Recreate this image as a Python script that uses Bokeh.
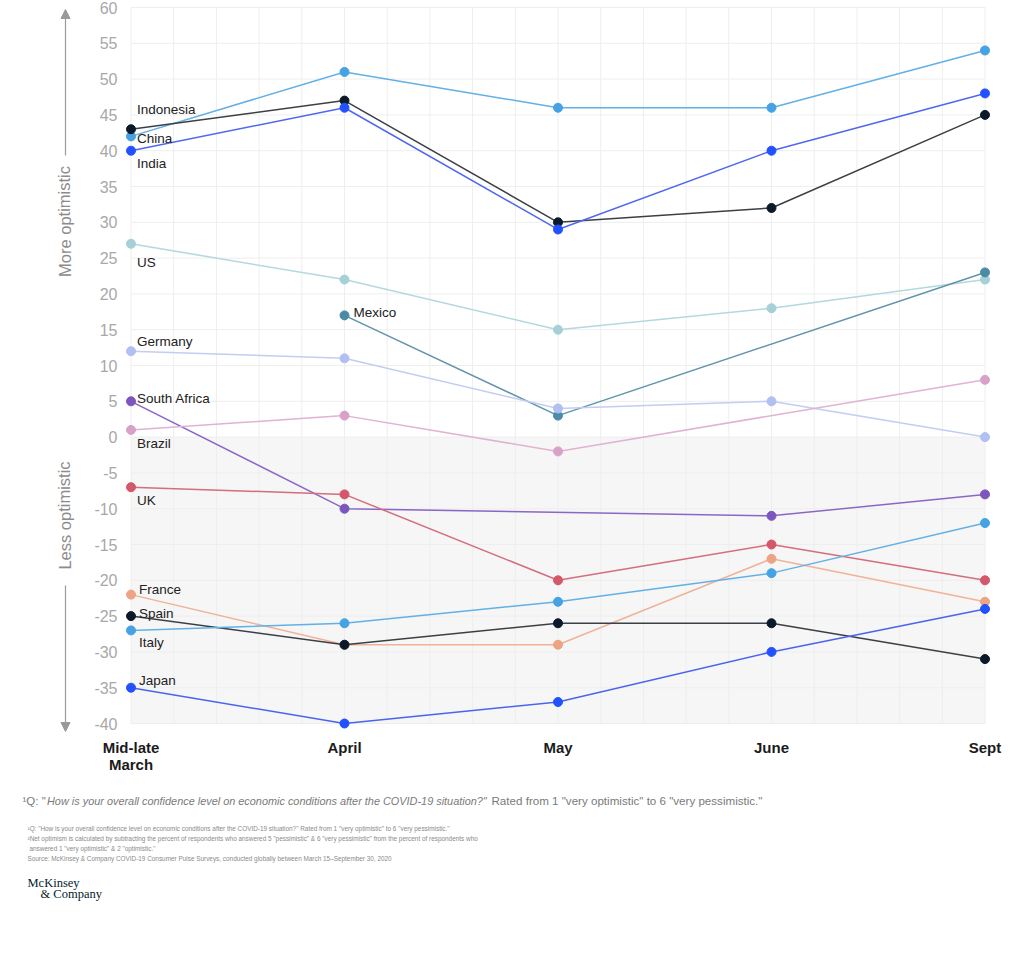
from bokeh.plotting import figure
from bokeh.models import Range1d, FixedTicker, Label, Arrow, NormalHead, LinearAxis
from bokeh.embed import file_html
from bokeh.resources import INLINE

# ---------------- data ----------------
periods = ["Mid-late\nMarch", "April", "May", "June", "Sept"]
period_pos = [0, 1, 2, 3, 4]

countries = ["China", "Indonesia", "India", "US", "Mexico", "Germany",
             "South Africa", "Brazil", "UK", "France", "Spain", "Italy", "Japan"]

china        = [42, 51, 46, 46, 54]
indonesia    = [43, 47, 30, 32, 45]
india        = [40, 46, 29, 40, 48]
us           = [27, 22, 15, 18, 22]
mexico       = [None, 17, 3, None, 23]
germany      = [12, 11, 4, 5, 0]
south_africa = [5, -10, None, -11, -8]
brazil       = [1, 3, -2, None, 8]
uk           = [-7, -8, -20, -15, -20]
france       = [-22, -29, -29, -17, -23]
spain        = [-25, -29, -26, -26, -31]
italy        = [-27, -26, -23, -19, -12]
japan        = [-35, -40, -37, -30, -24]

y_ticks = list(range(-40, 65, 5))
x_grid = [i / 5 for i in range(21)]

series = {
    "China": china, "Indonesia": indonesia, "India": india, "US": us,
    "Mexico": mexico, "Germany": germany, "South Africa": south_africa,
    "Brazil": brazil, "UK": uk, "France": france, "Spain": spain,
    "Italy": italy, "Japan": japan,
}

# ---------------- styles ----------------
dot_colors = {
    "China": "#45a2e4", "Indonesia": "#0b1a2a", "India": "#2251ff", "US": "#a6d0d8",
    "Mexico": "#4a8ba6", "Germany": "#b0c0f2", "South Africa": "#7c55bf",
    "Brazil": "#d8a2c8", "UK": "#d4576a", "France": "#eca484", "Spain": "#0b1a2a",
    "Italy": "#45a2e4", "Japan": "#2251ff",
}
line_colors = {
    "China": "#62b0e6", "Indonesia": "#3b4046", "India": "#5068f0", "US": "#b4d8de",
    "Mexico": "#5f95aa", "Germany": "#c3cdf2", "South Africa": "#8b66c6",
    "Brazil": "#e0b3d1", "UK": "#d46e7c", "France": "#f0b398", "Spain": "#3b4046",
    "Italy": "#62b0e6", "Japan": "#4a63f0",
}
# label anchor index and pixel offsets (dx right, dy down)
label_style = {
    "Indonesia": (0, 6, -20), "China": (0, 6, 2), "India": (0, 6, 13),
    "US": (0, 6, 19), "Mexico": (1, 9, -3), "Germany": (0, 6, -10),
    "South Africa": (0, 6, -3), "Brazil": (0, 6, 14), "UK": (0, 6, 13),
    "France": (0, 8, -5), "Spain": (0, 8, -3), "Italy": (0, 8, 12),
    "Japan": (0, 8, -7),
}

W, H = 1020, 930
PX0, PXU = 130.5, 213.5      # page x of first period, px per period
PY0, PYU = 7.0, 7.16         # page y of top tick, px per unit
YTOP = max(y_ticks)


def dx(px):
    return (px - PX0) / PXU


def dy(py):
    return YTOP - (py - PY0) / PYU


FONT = "Liberation Sans"

p = figure(width=W, height=H, output_backend="svg", toolbar_location=None,
           x_range=Range1d(dx(0), dx(W)), y_range=Range1d(dy(H), dy(0)),
           x_axis_location=None, y_axis_location=None,
           min_border_left=0, min_border_right=0, min_border_top=0, min_border_bottom=0)
p.outline_line_color = None
p.background_fill_color = "white"
p.border_fill_color = "white"
p.grid.visible = False

x_lo, x_hi = period_pos[0], period_pos[-1]
y_lo, y_hi = min(y_ticks), max(y_ticks)

# grey "less optimistic" band
p.quad(left=[x_lo], right=[x_hi], bottom=[y_lo], top=[0],
       fill_color="#f6f6f6", line_color=None)

# grid lines limited to the data area
p.segment(x0=x_grid, x1=x_grid, y0=[y_lo] * len(x_grid), y1=[y_hi] * len(x_grid),
          line_color="#eeeeee", line_width=1)
p.segment(x0=[x_lo] * len(y_ticks), x1=[x_hi] * len(y_ticks), y0=y_ticks, y1=y_ticks,
          line_color="#eeeeee", line_width=1)

# axes (fixed inside the canvas)
yax = LinearAxis(fixed_location=dx(127), ticker=FixedTicker(ticks=y_ticks))
yax.major_label_overrides = {t: str(t) for t in y_ticks}
yax.axis_line_color = None
yax.major_tick_line_color = None
yax.minor_tick_line_color = None
yax.major_label_text_font = FONT
yax.major_label_text_font_size = "16px"
yax.major_label_text_color = "#a8a8a8"
yax.major_label_standoff = 4
p.add_layout(yax, "left")

xax = LinearAxis(fixed_location=dy(723), ticker=FixedTicker(ticks=period_pos))
xax.major_label_overrides = {pp: lab for pp, lab in zip(period_pos, periods)}
xax.axis_line_color = None
xax.major_tick_line_color = None
xax.minor_tick_line_color = None
xax.major_label_text_font = FONT
xax.major_label_text_font_size = "15px"
xax.major_label_text_font_style = "bold"
xax.major_label_text_color = "#1b1b1b"
xax.major_label_text_line_height = 1.05
xax.major_label_standoff = 9
p.add_layout(xax, "below")

# series
for name in countries:
    vals = series[name]
    xs = [pp for pp, v in zip(period_pos, vals) if v is not None]
    ys = [v for v in vals if v is not None]
    p.line(xs, ys, line_color=line_colors[name], line_width=1.5)
    p.scatter(xs, ys, size=9, fill_color=dot_colors[name], line_color=dot_colors[name])

# country labels
for name in countries:
    idx, ox, oy = label_style[name]
    p.add_layout(Label(x=period_pos[idx], y=series[name][idx], x_offset=ox, y_offset=-oy,
                       text=name, text_font=FONT, text_font_size="13.5px",
                       text_color="#222222", text_baseline="middle", text_align="left"))

# side arrows and captions
grey = "#9a9a9a"
p.add_layout(Arrow(end=NormalHead(size=9, fill_color=grey, line_color=grey),
                   x_start=dx(65), y_start=dy(155), x_end=dx(65), y_end=dy(9),
                   line_color=grey, line_width=1.2))
p.add_layout(Arrow(end=NormalHead(size=9, fill_color=grey, line_color=grey),
                   x_start=dx(65), y_start=dy(585), x_end=dx(65), y_end=dy(731),
                   line_color=grey, line_width=1.2))
p.add_layout(Label(x=dx(64), y=dy(221), text="More optimistic", angle=1.5708,
                   text_font=FONT, text_font_size="16.5px", text_color="#8c8c8c",
                   text_align="center", text_baseline="middle"))
p.add_layout(Label(x=dx(64), y=dy(515), text="Less optimistic", angle=1.5708,
                   text_font=FONT, text_font_size="16.5px", text_color="#8c8c8c",
                   text_align="center", text_baseline="middle"))

# footnotes
fn = "#7a7a7a"
p.add_layout(Label(x=dx(22), y=dy(800), text="\u00b9Q: \"", text_font=FONT,
                   text_font_size="11.5px", text_color=fn, text_baseline="middle"))
p.add_layout(Label(x=dx(46.5), y=dy(800),
                   text="How is your overall confidence level on economic conditions after the COVID-19 situation?\"",
                   text_font=FONT, text_font_size="10.9px", text_font_style="italic",
                   text_color=fn, text_baseline="middle"))
p.add_layout(Label(x=dx(491), y=dy(800),
                   text="Rated from 1 \"very optimistic\" to 6 \"very pessimistic.\"",
                   text_font=FONT, text_font_size="11.6px", text_color=fn,
                   text_baseline="middle"))

small = [
    (27, 828, "\u00b9Q: \"How is your overall confidence level on economic conditions after the COVID-19 situation?\" Rated from 1 \"very optimistic\" to 6 \"very pessimistic.\""),
    (27, 838, "\u00b2Net optimism is calculated by subtracting the percent of respondents who answered 5 \"pessimistic\" & 6 \"very pessimistic\" from the percent of respondents who"),
    (29, 848, "answered 1 \"very optimistic\" & 2 \"optimistic.\""),
    (27, 858, "Source: McKinsey & Company COVID-19 Consumer Pulse Surveys, conducted globally between March 15\u2013September 30, 2020"),
]
for sx, sy, t in small:
    p.add_layout(Label(x=dx(sx), y=dy(sy), text=t, text_font=FONT, text_font_size="6.4px",
                       text_color="#8a8a8a", text_baseline="middle"))

p.add_layout(Label(x=dx(27), y=dy(882), text="McKinsey", text_font="Liberation Serif",
                   text_font_size="12.5px", text_color="#051c2c", text_baseline="middle"))
p.add_layout(Label(x=dx(40), y=dy(893), text="& Company", text_font="Liberation Serif",
                   text_font_size="12.5px", text_color="#051c2c", text_baseline="middle"))

open("out.html", "w").write(file_html(p, INLINE))
